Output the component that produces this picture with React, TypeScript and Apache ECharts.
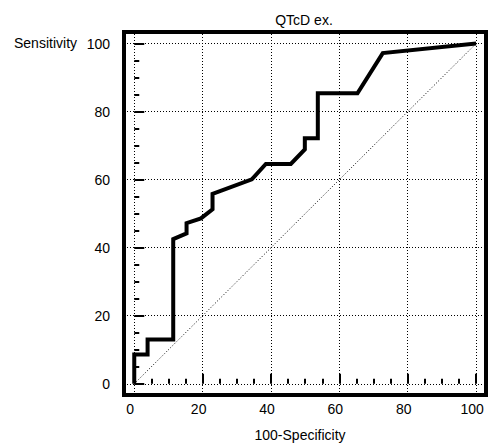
import React, { useEffect, useRef } from "react";
import * as echarts from "echarts";

const fpr = [0, 0, 3.9, 3.9, 11.4, 11.4, 15.3, 15.3, 19.5, 22.9, 22.9, 34.4, 38.5, 45.8, 49.9, 49.9, 53.7, 53.7, 65.3, 72.7, 100];
const tpr = [0, 8.6, 8.6, 13, 13, 42.5, 44.2, 47.2, 48.6, 51.3, 55.8, 60.1, 64.6, 64.6, 68.9, 72.2, 72.2, 85.4, 85.4, 97.2, 100];
const majorTicks = [0, 20, 40, 60, 80, 100];
const minorTicks = [5, 10, 15, 25, 30, 35, 45, 50, 55, 65, 70, 75, 85, 90, 95];
const diagonal = [[0, 0], [100, 100]];
const titleText = "QTcD ex.";
const xName = "100-Specificity";
const yName = "Sensitivity";

const FONT = "'Liberation Sans', Arial, sans-serif";

export default function App() {
  const ref = useRef<HTMLDivElement>(null);
  useEffect(() => {
    if (!ref.current) return;
    const chart = echarts.init(ref.current, null, { renderer: "svg" });
    const axisCommon = {
      type: "value" as const,
      axisLine: { show: false },
      splitLine: { show: false },
    };
    const xMin = -3, xMax = 102.9, yMin = -3.3, yMax = 103.4;
    chart.setOption({
      animation: false,
      backgroundColor: "#fff",
      grid: {
        left: 124, right: 7, top: 32, bottom: 49,
        show: true, borderColor: "#000", borderWidth: 4, backgroundColor: "transparent",
      },
      xAxis: [
        {
          ...axisCommon, min: xMin, max: xMax, position: "bottom",
          axisTick: { show: true, inside: true, length: 10, customValues: majorTicks, lineStyle: { color: "#000", width: 2 } },
          axisLabel: { show: true, customValues: majorTicks, color: "#000", fontSize: 14, fontFamily: FONT, margin: 7, padding: [0, 8, 0, 0] },
        },
        {
          ...axisCommon, min: xMin, max: xMax, position: "bottom",
          axisTick: { show: true, inside: true, length: 5, customValues: minorTicks, lineStyle: { color: "#000", width: 2 } },
          axisLabel: { show: false },
        },
      ],
      yAxis: [
        {
          ...axisCommon, min: yMin, max: yMax, position: "left",
          axisTick: { show: true, inside: true, length: 10, customValues: majorTicks, lineStyle: { color: "#000", width: 2 } },
          axisLabel: { show: true, customValues: majorTicks, color: "#000", fontSize: 14, fontFamily: FONT, margin: 14 },
        },
        {
          ...axisCommon, min: yMin, max: yMax, position: "left",
          axisTick: { show: true, inside: true, length: 5, customValues: minorTicks, lineStyle: { color: "#000", width: 2 } },
          axisLabel: { show: false },
        },
      ],
      series: [
        {
          type: "line",
          xAxisIndex: 0, yAxisIndex: 0,
          data: diagonal,
          symbol: "none",
          silent: true,
          z: 1,
          lineStyle: { color: "#000", width: 1, type: [1, 2] },
          markLine: {
            silent: true,
            symbol: ["none", "none"],
            label: { show: false },
            lineStyle: { color: "#000", width: 1, type: [1, 2] },
            data: [
              ...majorTicks.map((v) => ({ xAxis: v })),
              ...majorTicks.map((v) => ({ yAxis: v })),
            ],
          },
        },
        {
          type: "line",
          xAxisIndex: 0, yAxisIndex: 0,
          data: fpr.map((x, i) => [x, tpr[i]]),
          symbol: "none",
          z: 5,
          lineStyle: { color: "#000", width: 4, join: "miter" },
        },
      ],
      graphic: [
        {
          type: "text", x: 304, y: 20,
          style: { text: titleText, fontSize: 14, fontFamily: FONT, fill: "#000", textAlign: "center", textVerticalAlign: "middle" },
        },
        {
          type: "text", x: 300, y: 435,
          style: { text: xName, fontSize: 14, fontFamily: FONT, fill: "#000", textAlign: "center", textVerticalAlign: "middle" },
        },
        {
          type: "text", x: 14, y: 43,
          style: { text: yName, fontSize: 14, fontFamily: FONT, fill: "#000", textAlign: "left", textVerticalAlign: "middle" },
        },
      ],
    });
    return () => chart.dispose();
  }, []);
  return <div ref={ref} style={{ position: "fixed", left: 0, top: 0, width: 493, height: 444 }} />;
}
